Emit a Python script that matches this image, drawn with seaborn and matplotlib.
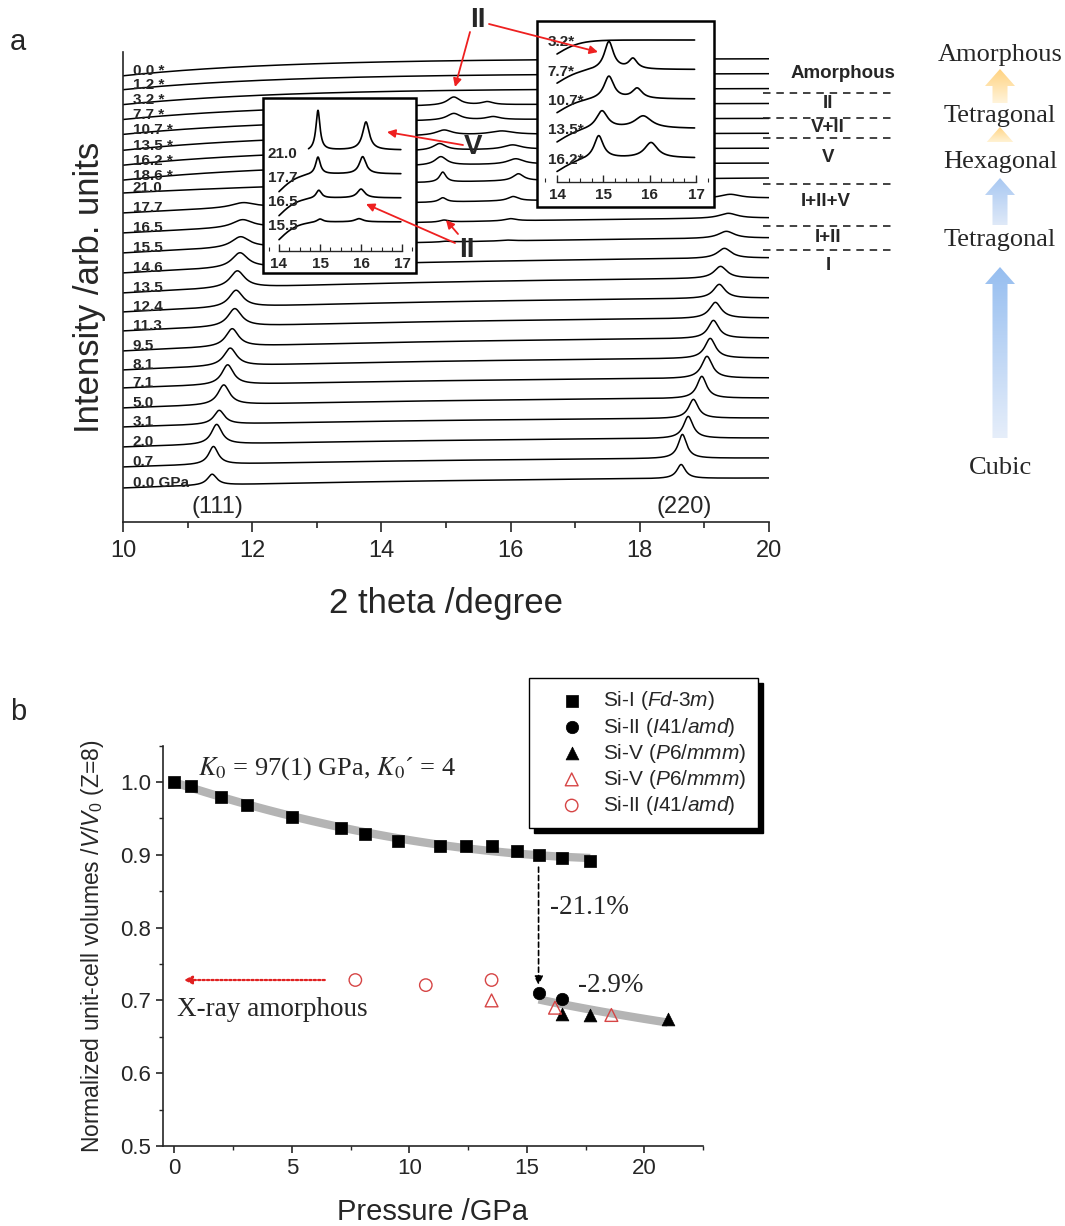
import numpy as np
import pandas as pd
import matplotlib
matplotlib.use("Agg")
import matplotlib.pyplot as plt
from matplotlib.patches import FancyArrow, Rectangle
from matplotlib.ticker import MultipleLocator
import seaborn as sns

# ---------------------------------------------------------------
# Panel a: XRD patterns of Si on compression (0.0-21.0 GPa) and
# decompression (values marked *)
# ---------------------------------------------------------------
trace_labels = ["0.0 GPa", "0.7", "2.0", "3.1", "5.0", "7.1", "8.1", "9.5",
                "11.3", "12.4", "13.5", "14.6", "15.5", "16.5", "17.7", "21.0",
                "18.6 *", "16.2 *", "13.5 *", "10.7 *", "7.7 *", "3.2 *",
                "1.2 *", "0.0 *"]
# background rise of each pattern between 10 and 20 deg (arb. units)
background_rise = [1.0, 0.9, 0.9, 0.9, 1.0, 1.0, 1.2, 1.3, 1.3, 1.4, 1.5, 1.5,
                   1.5, 1.5, 1.5, 1.5, 1.7, 1.7, 1.7, 1.6, 1.6, 1.6, 1.6, 1.7]

# Si-I (111) and (220) reflections, compression 0.0-17.7 GPa
si1_111_pos = [11.38, 11.40, 11.45, 11.49, 11.56, 11.62, 11.66, 11.69, 11.73,
               11.75, 11.77, 11.81, 11.82, 11.85, 11.86]
si1_111_height = [1.1, 1.8, 2.0, 1.4, 2.0, 2.0, 1.8, 1.8, 1.8, 1.7, 1.7, 1.5,
                  1.1, 0.8, 0.5]
si1_111_hwhm = [0.09, 0.09, 0.10, 0.10, 0.11, 0.11, 0.12, 0.12, 0.13, 0.13,
                0.14, 0.15, 0.17, 0.19, 0.22]
si1_220_pos = [18.64, 18.66, 18.75, 18.83, 18.96, 19.04, 19.09, 19.14, 19.17,
               19.23, 19.25, 19.31, 19.34, 19.37, 19.40]
si1_220_height = [1.4, 2.4, 2.2, 1.9, 2.2, 2.2, 2.0, 1.8, 1.6, 1.4, 1.2, 1.0,
                  0.7, 0.5, 0.4]
si1_220_hwhm = [0.08, 0.08, 0.09, 0.09, 0.09, 0.10, 0.10, 0.10, 0.11, 0.11,
                0.12, 0.13, 0.15, 0.17, 0.19]

# Si-II / Si-V reflections between 14.8 and 16.2 deg
hp_traces = ["15.5", "16.5", "17.7", "21.0", "18.6 *", "16.2 *", "13.5 *",
             "10.7 *", "7.7 *"]
hp_p1_pos = [15.00, 14.97, 14.95, 14.95, 14.92, 14.90, 14.97, 15.12, 15.12]
hp_p1_height = [0.08, 0.20, 0.43, 1.00, 0.85, 0.67, 0.52, 0.67, 0.82]
hp_p1_hwhm = [0.09, 0.08, 0.07, 0.06, 0.11, 0.12, 0.15, 0.13, 0.12]
hp_p2_pos = [15.95, 16.00, 16.04, 16.12, 16.08, 16.03, 15.86, 15.73, 15.64]
hp_p2_height = [0.08, 0.22, 0.43, 0.70, 0.55, 0.45, 0.36, 0.30, 0.30]
hp_p2_hwhm = [0.12, 0.11, 0.10, 0.10, 0.15, 0.17, 0.22, 0.13, 0.11]

inset_left_traces = ["15.5", "16.5", "17.7", "21.0"]
inset_right_traces = ["16.2 *", "13.5 *", "10.7 *", "7.7 *", "3.2 *"]

phase_labels = ["Amorphous", "II", "V+II", "V", "I+II+V", "I+II", "I"]
structure_labels = ["Amorphous", "Tetragonal", "Hexagonal", "Tetragonal", "Cubic"]

# ---------------------------------------------------------------
# Panel b: normalized unit-cell volumes vs pressure
# ---------------------------------------------------------------
si1_p = [0.0, 0.7, 2.0, 3.1, 5.0, 7.1, 8.1, 9.5, 11.3, 12.4, 13.5, 14.6, 15.5,
         16.5, 17.7]
si1_v = [1.000, 0.994, 0.979, 0.969, 0.952, 0.937, 0.929, 0.919, 0.912, 0.912,
         0.912, 0.905, 0.900, 0.895, 0.892]
si2_p = [15.5, 16.5]
si2_v = [0.710, 0.702]
si5_p = [16.5, 17.7, 21.0]
si5_v = [0.682, 0.680, 0.674]
si5_dec_p = [13.5, 16.2, 18.6]
si5_dec_v = [0.700, 0.690, 0.680]
si2_dec_p = [7.7, 10.7, 13.5]
si2_dec_v = [0.728, 0.721, 0.728]

# ---------------------------------------------------------------
sns.set_theme(style="ticks")
plt.rcParams["font.family"] = ["Liberation Sans", "DejaVu Sans"]
plt.rcParams["mathtext.fontset"] = "custom"
plt.rcParams["mathtext.rm"] = "Liberation Sans"
plt.rcParams["mathtext.it"] = "Liberation Sans:italic"
plt.rcParams["mathtext.bf"] = "Liberation Sans:bold"
plt.rcParams["axes.linewidth"] = 1.2

W, H = 1065, 1226
fig = plt.figure(figsize=(W / 100, H / 100), dpi=100)


def px_box(l, t, r, b):
    return [l / W, 1 - b / H, (r - l) / W, (b - t) / H]


def lorentz(x, x0, h, w):
    return h / (1.0 + ((x - x0) / w) ** 2)


def peaks_for(label, x, scale=1.0):
    y = np.zeros_like(x)
    if label in trace_labels[:15]:
        i = trace_labels.index(label)
        y += lorentz(x, si1_111_pos[i], si1_111_height[i], si1_111_hwhm[i])
        y += lorentz(x, si1_220_pos[i], si1_220_height[i], si1_220_hwhm[i])
    if label in hp_traces:
        k = hp_traces.index(label)
        y += lorentz(x, hp_p1_pos[k], hp_p1_height[k], hp_p1_hwhm[k])
        y += lorentz(x, hp_p2_pos[k], hp_p2_height[k], hp_p2_hwhm[k])
    return y * scale


# ---------------- panel a main axes ----------------
ax_a = fig.add_axes(px_box(123, 52, 769, 522))
x_main = np.linspace(10, 20, 2001)
rows = []
offsets = {}
for i, lab in enumerate(trace_labels):
    if i < 16:
        off = 4.4 + 2.0 * i
        tau = 5.0
    else:
        off = 34.4 + 1.49 * (i - 15)
        tau = 2.5
    offsets[lab] = off
    g = (np.exp(-(x_main - 10) / tau) - np.exp(-10 / tau)) / (1 - np.exp(-10 / tau))
    y = off - background_rise[i] * g + peaks_for(lab, x_main)
    rows.append(pd.DataFrame({"two_theta": x_main, "signal": y, "trace": lab}))
df_main = pd.concat(rows, ignore_index=True)
sns.lineplot(data=df_main, x="two_theta", y="signal", units="trace",
             estimator=None, sort=False, color="black", linewidth=1.1,
             ax=ax_a, legend=False)
for i, lab in enumerate(trace_labels):
    ax_a.text(10.15, offsets[lab] - background_rise[i] + 0.05, lab,
              fontsize=11, fontweight="bold", va="baseline", ha="left")

ax_a.set_xlim(10, 20)
ax_a.set_ylim(0, 47)
ax_a.set_yticks([])
ax_a.xaxis.set_major_locator(MultipleLocator(2))
ax_a.xaxis.set_minor_locator(MultipleLocator(1))
ax_a.tick_params(axis="x", which="major", direction="out", length=7, width=1.2,
                 labelsize=17, pad=6)
ax_a.tick_params(axis="x", which="minor", direction="out", length=4, width=1.2)
sns.despine(ax=ax_a)
ax_a.set_xlabel("2 theta /degree", fontsize=25, labelpad=18)
ax_a.set_ylabel("Intensity /arb. units", fontsize=25, labelpad=12)
ax_a.text(si1_111_pos[0] + 0.08, 1.45, "(111)", fontsize=17, ha="center", va="center")
ax_a.text(si1_220_pos[0] + 0.05, 1.45, "(220)", fontsize=17, ha="center", va="center")


# ---------------- insets ----------------
def make_inset(box, xlim, ylim, axis_y, traces, start, base0, step, rise,
               width, scale, label_dy, label_x):
    ax = fig.add_axes(box)
    ax.set_facecolor("white")
    rows = []
    for k, lab in enumerate(traces):
        x0 = start.get(lab, 14.0)
        x = np.linspace(x0, 16.97, 800)
        off = base0 + step * k
        y = off - rise * (1 - np.tanh((x - 14.0) / width)) + peaks_for(lab, x, scale)
        rows.append(pd.DataFrame({"two_theta": x, "signal": y, "trace": lab}))
        ax.text(label_x, off + label_dy, lab.replace(" ", ""), fontsize=11,
                fontweight="bold", ha="left", va="center")
    df = pd.concat(rows, ignore_index=True)
    sns.lineplot(data=df, x="two_theta", y="signal", units="trace",
                 estimator=None, sort=False, color="black", linewidth=1.2,
                 ax=ax, legend=False)
    ax.set_xlim(*xlim)
    ax.set_ylim(*ylim)
    ax.set_xlabel("")
    ax.set_ylabel("")
    ax.set_yticks([])
    for s in ("top", "left", "right"):
        ax.spines[s].set_visible(False)
    ax.spines["bottom"].set_position(("data", axis_y))
    ax.spines["bottom"].set_bounds(14, 17)
    ax.spines["bottom"].set_linewidth(1.0)
    ax.set_xticks([14, 15, 16, 17])
    ax.set_xticklabels(["14", "15", "16", "17"], fontsize=11, fontweight="bold")
    ax.xaxis.set_minor_locator(MultipleLocator(0.25))
    ax.tick_params(axis="x", which="major", direction="in", length=5, width=1, pad=4)
    ax.tick_params(axis="x", which="minor", direction="in", length=3, width=0.8)
    ax.add_patch(Rectangle((0, 0), 1, 1, transform=ax.transAxes, fill=False,
                           lw=1.8, edgecolor="black", clip_on=False, zorder=5))
    return ax


ins1 = make_inset(px_box(263, 98, 416, 273), (13.61, 17.34), (0, 175), 22,
                  inset_left_traces, {"21.0": 14.72}, 51, 24, 18, 0.45, 40,
                  -4, 13.72)
ins2 = make_inset(px_box(537, 21, 714, 207), (13.568, 17.389), (0, 186), 25,
                  inset_right_traces, {}, 49, 29.5, 14, 0.5, 34, -2, 13.8)

# ---------------- panel b ----------------
ax_b = fig.add_axes(px_box(162.7, 745.6, 703, 1146))
band = "#b4b4b4"
sns.regplot(x=si1_p, y=si1_v, order=2, ci=None, scatter=False, ax=ax_b,
            line_kws=dict(color=band, lw=6, solid_capstyle="butt", zorder=1))
sns.regplot(x=si2_p + si5_p, y=si2_v + si5_v, logx=True, ci=None, scatter=False,
            ax=ax_b, line_kws=dict(color=band, lw=6, solid_capstyle="butt", zorder=1))

red = "#d64545"
sns.scatterplot(x=si1_p, y=si1_v, marker="s", s=70, color="black",
                edgecolor="black", linewidth=0.5, zorder=3, ax=ax_b,
                label=r"Si-I ($\mathit{Fd}$-3$\mathit{m}$)")
sns.scatterplot(x=si2_p, y=si2_v, marker="o", s=80, color="black",
                edgecolor="black", linewidth=0.5, zorder=3, ax=ax_b,
                label=r"Si-II ($\mathit{I}$41/$\mathit{amd}$)")
sns.scatterplot(x=si5_p, y=si5_v, marker="^", s=85, color="black",
                edgecolor="black", linewidth=0.5, zorder=3, ax=ax_b,
                label=r"Si-V ($\mathit{P}$6/$\mathit{mmm}$)")
sns.scatterplot(x=si5_dec_p, y=si5_dec_v, marker="^", s=85, color=red,
                facecolor="none", edgecolor=red, linewidth=1.0, zorder=4, ax=ax_b,
                label=r"Si-V ($\mathit{P}$6/$\mathit{mmm}$)")
sns.scatterplot(x=si2_dec_p, y=si2_dec_v, marker="o", s=80, color=red,
                facecolor="none", edgecolor=red, linewidth=1.0, zorder=4, ax=ax_b,
                label=r"Si-II ($\mathit{I}$41/$\mathit{amd}$)")

ax_b.set_xlim(-0.5, 22.5)
ax_b.set_ylim(0.5, 1.05)
ax_b.xaxis.set_major_locator(MultipleLocator(5))
ax_b.xaxis.set_minor_locator(MultipleLocator(2.5))
ax_b.yaxis.set_minor_locator(MultipleLocator(0.05))
ax_b.set_yticks([0.5, 0.6, 0.7, 0.8, 0.9, 1.0])
ax_b.set_yticklabels(["0.5", "0.6", "0.7", "0.8", "0.9", "1.0"])
ax_b.tick_params(which="major", direction="out", length=5, width=1.2, labelsize=16)
ax_b.tick_params(which="minor", direction="out", length=3, width=1.0)
sns.despine(ax=ax_b)
ax_b.set_xlabel("Pressure /GPa", fontsize=21, labelpad=14)
ax_b.set_ylabel(r"Normalized unit-cell volumes /$\mathit{V}$/$\mathit{V}_0$ (Z=8)",
                fontsize=16.5, labelpad=10)

leg = ax_b.legend(loc="upper left", bbox_to_anchor=(529 / W, 1 - 678 / H),
                  bbox_transform=fig.transFigure, borderaxespad=0, fontsize=15,
                  frameon=True, fancybox=False, framealpha=1, edgecolor="black",
                  borderpad=0.55, handlelength=3.0, handletextpad=0.0,
                  labelspacing=0.15,
                  shadow={"facecolor": "black", "edgecolor": "black",
                          "alpha": 1, "ox": 3.5, "oy": -3.5})
leg.get_frame().set_linewidth(1.0)

serif = ["Liberation Serif", "DejaVu Serif"]
ax_b.text(1.0, 1.019, r"$K_0$ = 97(1) GPa, $K_0$´ = 4", fontsize=19,
          family=serif, math_fontfamily="stix", va="center", ha="left")
ax_b.text(16.0, 0.827, "-21.1%", fontsize=19.5, family=serif, va="center")
ax_b.text(17.2, 0.721, "-2.9%", fontsize=19.5, family=serif, va="center")
ax_b.text(0.13, 0.687, "X-ray amorphous", fontsize=19.5, family=serif, va="center")
ax_b.annotate("", xy=(si2_p[0], si2_v[0] + 0.011),
              xytext=(si1_p[12], si1_v[12] - 0.017),
              arrowprops=dict(arrowstyle="-|>", ls=(0, (3, 2)), lw=1.2,
                              color="black", mutation_scale=13, shrinkA=0, shrinkB=0))
ax_b.annotate("", xy=(0.4, si2_dec_v[0]), xytext=(6.4, si2_dec_v[0]),
              arrowprops=dict(arrowstyle="-|>", ls=(0, (1, 1)), lw=1.6,
                              color="#e02020", mutation_scale=12, shrinkA=0, shrinkB=0))

# ---------------- decorations in figure pixel coordinates ----------------
ov = fig.add_axes([0, 0, 1, 1], zorder=10)
ov.patch.set_alpha(0)
ov.axis("off")
ov.set_autoscale_on(False)
ov.set_xlim(0, W)
ov.set_ylim(H, 0)

ov.text(10, 42, "a", fontsize=21, va="center", ha="left")
ov.text(10, 712, "b", fontsize=21, va="center", ha="left")

redc = "#ee2020"
arrow_kw = dict(arrowstyle="-|>", color=redc, lw=1.3, mutation_scale=12,
                shrinkA=0, shrinkB=0)
ov.text(478, 20, "II", fontsize=20, fontweight="bold", ha="center", va="center")
ov.annotate("", xy=(455, 87), xytext=(470, 32), arrowprops=arrow_kw)
ov.annotate("", xy=(598, 52), xytext=(489, 24), arrowprops=arrow_kw)
ov.text(473, 147, "V", fontsize=20, fontweight="bold", ha="center", va="center")
ov.annotate("", xy=(387, 132), xytext=(463, 145), arrowprops=arrow_kw)
ov.text(467, 250, "II", fontsize=20, fontweight="bold", ha="center", va="center")
ov.annotate("", xy=(446, 220), xytext=(458, 234), arrowprops=arrow_kw)
ov.annotate("", xy=(366, 204), xytext=(455, 243), arrowprops=arrow_kw)

for yb in (93, 118, 138, 184, 226, 250):
    ov.plot([763, 892], [yb, yb], color="#222222", lw=1.2, ls=(0, (4.5, 3.5)))
for lab, (xp, yp) in zip(phase_labels, [(843, 73), (828, 104), (828, 127),
                                         (828, 157), (826, 201), (828, 237),
                                         (828, 265)]):
    ov.text(xp, yp, lab, fontsize=13.5, fontweight="bold", ha="center", va="center")

for lab, yp in zip(structure_labels, [55, 116, 162, 240, 468]):
    ov.text(1000, yp, lab, fontsize=19, family=serif, ha="center", va="center")


def gradient_arrow(ax, xc, y_base, y_tip, c_base, c_tip, shaft=15, head=30, head_len=17):
    arr = FancyArrow(xc, y_base, 0, y_tip - y_base, width=shaft, head_width=head,
                     head_length=head_len, length_includes_head=True,
                     facecolor="none", edgecolor="none")
    ax.add_patch(arr)
    t = np.linspace(0, 1, 256)[:, None]
    cb = np.array(matplotlib.colors.to_rgb(c_base))
    ct = np.array(matplotlib.colors.to_rgb(c_tip))
    grad = ((1 - t) * cb + t * ct)[:, None, :]
    im = ax.imshow(grad, extent=(xc - head / 2, xc + head / 2, y_base, y_tip),
                   origin="lower", aspect="auto", interpolation="bilinear")
    im.set_clip_path(arr)


gradient_arrow(ov, 1000, 438, 267, "#e6eefa", "#96bef0")
gradient_arrow(ov, 1000, 225, 178, "#dfe9f8", "#a8c8f2")
gradient_arrow(ov, 1000, 142, 127, "#fff2d4", "#ffd585")
gradient_arrow(ov, 1000, 103, 69, "#fff4db", "#ffd27f")
ov.set_xlim(0, W)
ov.set_ylim(H, 0)

fig.savefig("out.png", dpi=100)
